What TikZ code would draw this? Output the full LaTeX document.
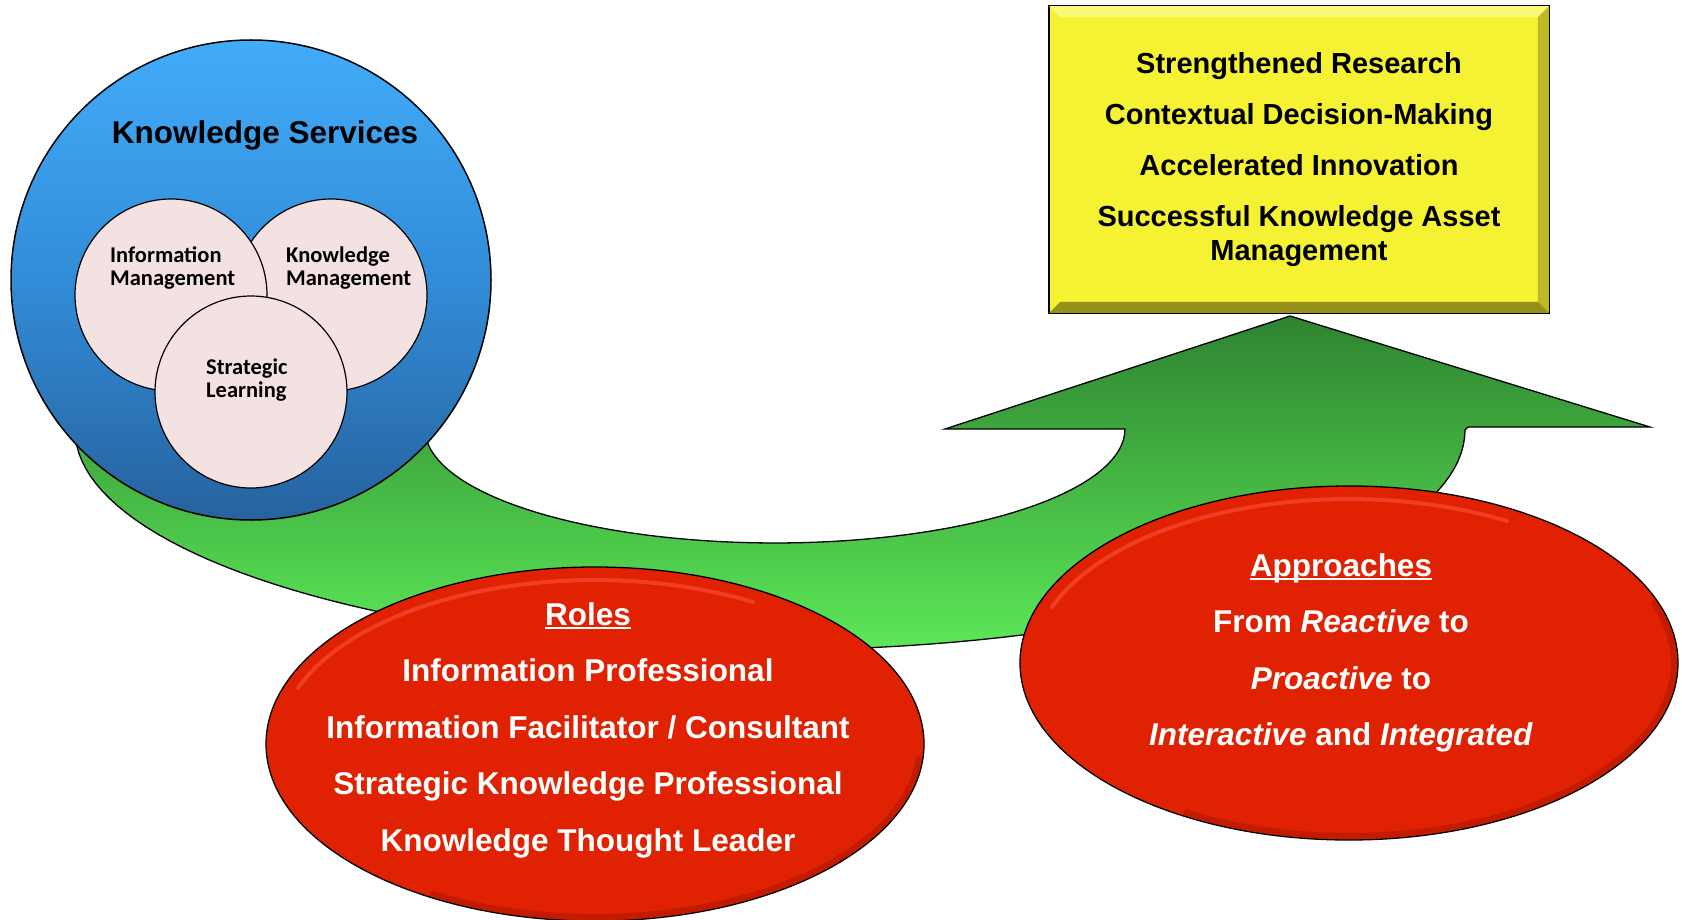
\documentclass[tikz,border=0pt]{standalone}
\usepackage{fontspec}
\setmainfont{Liberation Sans}
\newfontfamily\circfont{Carlito}
\definecolor{ksblue}{RGB}{66, 172, 250}
\definecolor{ksbluemid}{RGB}{50, 140, 215}
\definecolor{ksbluedark}{RGB}{38, 98, 158}
\definecolor{petal}{RGB}{243, 226, 225}
\definecolor{ovalred}{RGB}{224, 34, 2}
\definecolor{ovalshine}{RGB}{255, 90, 70}
\definecolor{ovalrim}{RGB}{165, 22, 0}
\definecolor{arrowtop}{RGB}{46, 132, 48}
\definecolor{arrowbottom}{RGB}{92, 232, 88}
\definecolor{goalyellow}{RGB}{245, 242, 52}
\definecolor{bevellight}{RGB}{250, 250, 120}
\definecolor{beveldark}{RGB}{150, 145, 28}
\definecolor{bevelmid}{RGB}{190, 185, 40}
\usetikzlibrary{shapes.geometric,positioning,calc}
\newcommand\headline[1]{\setbox0\hbox{#1}\rlap{\rule[-4pt]{\wd0}{2pt}}\box0}

\begin{document}
\begin{tikzpicture}[x=1pt, y=-1pt,
    ring/.style={circle, draw=black, line width=1.2pt, fill=petal, minimum size=192pt, inner sep=0pt},
    ringtext/.style={anchor=west, align=left, inner sep=0pt, font=\circfont\bfseries\fontsize{22.5}{23.5}\selectfont},
    oval/.style={ellipse, draw=black, line width=1.3pt, fill=ovalred, minimum width=658pt, minimum height=354pt, inner sep=0pt},
    ovaltext/.style={align=center, text=white, inner sep=0pt, font=\bfseries\fontsize{31.5}{56.5}\selectfont},
    shine/.style={ovalshine, line width=4pt, opacity=0.5, line cap=round},
    rim/.style={ovalrim, line width=6pt, opacity=0.5, line cap=round}
]
\useasboundingbox (0,0) rectangle (1682,920);

% green curved arrow
\path[draw=black, line width=1.3pt, top color=arrowtop, bottom color=arrowbottom]
    (75,430) -- plot[domain=180:0, samples=90] ({770+695*cos(\x)}, {430+220*sin(\x)})
    -- (1468,427) -- (1650,427) -- (1290,316) -- (945,429) -- (1125,429)
    -- plot[domain=0:180, samples=70] ({775+350*cos(\x)}, {429+114*sin(\x)}) -- cycle;

% knowledge services
\node[circle, draw=black, line width=1.5pt, minimum size=480pt, inner sep=0pt,
      top color=ksblue, bottom color=ksbluedark, middle color=ksbluemid] (services) at (251,280) {};
\node[font=\bfseries\fontsize{31.5}{36}\selectfont] (servtitle) at (265,135) {Knowledge Services};

\node[ring] (knowm) at (331,295) {};
\node[ring] (infom) at (171,295) {};
\node[ring] (stratl) at (251,392) {};
\node[ringtext] (infotext) at (110,268) {Information\\Management};
\node[ringtext] (knowtext) at (286,268) {Knowledge\\Management};
\node[ringtext] (strattext) at (206,380) {Strategic\\Learning};

% roles and approaches
\node[oval] (roles) at (595,744) {};
\draw[rim] plot[domain=5:120, samples=40] ({595+325*cos(\x)}, {744+173*sin(\x)});
\draw[shine] plot[domain=200:300, samples=40] ({595+316*cos(\x)}, {744+164*sin(\x)});
\node[ovaltext] (rolestext) at ($(roles.center)+(-7,-14)$)
    {\headline{Roles}\\Information Professional\\Information Facilitator / Consultant\\Strategic Knowledge Professional\\Knowledge Thought Leader};
\node[oval] (approaches) at (1349,663) {};
\draw[rim] plot[domain=-20:120, samples=40] ({1349+325*cos(\x)}, {663+173*sin(\x)});
\draw[shine] plot[domain=200:300, samples=40] ({1349+316*cos(\x)}, {663+164*sin(\x)});
\node[ovaltext] (apptext) at ($(approaches.center)+(-8,-10)$)
    {\headline{Approaches}\\From \textit{Reactive} to\\\textit{Proactive} to\\\textit{Interactive} and \textit{Integrated}};

% outcomes
\node[rectangle, draw=black, line width=1.5pt, fill=goalyellow, minimum width=500pt, minimum height=307pt,
      align=center, font=\bfseries\fontsize{29}{34}\selectfont] (outcomes) at (1299,159.5)
    {Strengthened Research\\[17pt]Contextual Decision-Making\\[17pt]Accelerated Innovation\\[17pt]Successful Knowledge Asset\\Management};
\fill[bevellight] ($(outcomes.north west)+(1,1)$) -- ($(outcomes.north east)+(-1,1)$) -- ($(outcomes.north east)+(-12,12)$) -- ($(outcomes.north west)+(12,12)$) -- cycle;
\fill[bevelmid] ($(outcomes.north east)+(-1,1)$) -- ($(outcomes.south east)+(-1,-1)$) -- ($(outcomes.south east)+(-12,-12)$) -- ($(outcomes.north east)+(-12,12)$) -- cycle;
\fill[beveldark] ($(outcomes.south west)+(1,-1)$) -- ($(outcomes.south east)+(-1,-1)$) -- ($(outcomes.south east)+(-12,-12)$) -- ($(outcomes.south west)+(12,-12)$) -- cycle;
\end{tikzpicture}
\end{document}
